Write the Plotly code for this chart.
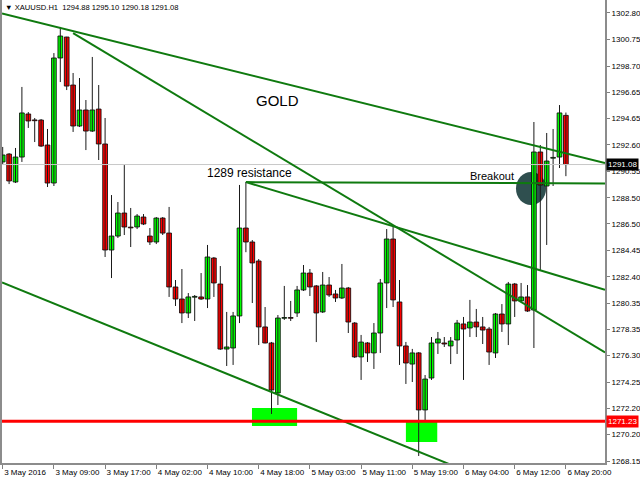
import plotly.graph_objects as go

# XAUUSD hourly bars
opens = [1291.28, 1291.89, 1289.73, 1291.66, 1294.99, 1294.52, 1294.52, 1292.59, 1289.65, 1299.32,
         1300.94, 1297.23, 1294.06, 1295.30, 1293.67, 1295.37, 1292.67, 1284.47, 1285.55, 1287.33,
         1286.22, 1286.25, 1287.02, 1285.55, 1285.09, 1286.94, 1285.78, 1281.61, 1280.68, 1279.60,
         1280.82, 1280.84, 1280.68, 1283.85, 1281.84, 1276.81, 1276.89, 1279.37, 1286.17, 1285.09,
         1283.62, 1278.52, 1277.28, 1273.41, 1279.19, 1279.21, 1279.60, 1281.38, 1282.69, 1281.69,
         1279.68, 1281.76, 1281.07, 1280.76, 1281.53, 1278.82, 1276.20, 1277.28, 1276.51, 1278.05,
         1281.92, 1285.32, 1280.45, 1277.05, 1275.65, 1276.51, 1272.10, 1274.57, 1277.28, 1277.28,
         1277.05, 1277.51, 1278.75, 1278.44, 1278.90, 1278.52, 1278.36, 1276.51, 1279.52, 1278.75,
         1281.84, 1280.53, 1280.84, 1279.83, 1292.05, 1289.42, 1291.57, 1291.66, 1294.88]
highs = [1292.44, 1291.97, 1292.36, 1297.08, 1295.14, 1294.68, 1294.60, 1293.83, 1299.70, 1301.72,
         1300.96, 1298.16, 1297.77, 1296.07, 1299.40, 1297.23, 1294.68, 1288.72, 1288.18, 1291.04,
         1287.72, 1287.25, 1287.25, 1286.17, 1287.02, 1287.02, 1287.80, 1282.15, 1283.00, 1281.14,
         1280.99, 1282.69, 1284.86, 1283.93, 1283.23, 1279.68, 1279.68, 1289.50, 1289.73, 1285.24,
         1283.77, 1280.06, 1277.36, 1279.44, 1281.69, 1280.53, 1281.69, 1283.31, 1283.00, 1281.76,
         1282.77, 1282.38, 1281.38, 1283.39, 1281.61, 1278.90, 1277.90, 1277.35, 1278.82, 1282.23,
         1286.09, 1286.40, 1282.15, 1277.36, 1276.82, 1276.58, 1274.80, 1277.74, 1278.13, 1277.74,
         1277.74, 1279.06, 1279.29, 1280.61, 1279.91, 1279.29, 1278.52, 1279.60, 1280.29, 1282.00,
         1281.92, 1281.92, 1281.76, 1294.37, 1292.59, 1293.52, 1293.83, 1295.68, 1295.10]
lows = [1291.12, 1289.57, 1289.65, 1291.28, 1293.91, 1292.82, 1292.44, 1289.34, 1289.42, 1297.46,
        1296.84, 1293.60, 1293.98, 1292.20, 1293.60, 1291.43, 1283.93, 1282.30, 1285.40, 1285.63,
        1284.70, 1286.09, 1286.40, 1284.86, 1284.93, 1285.63, 1280.84, 1280.14, 1278.82, 1279.21,
        1278.98, 1280.61, 1279.98, 1280.84, 1276.74, 1275.50, 1275.58, 1278.82, 1284.30, 1280.37,
        1277.12, 1277.25, 1271.79, 1272.48, 1279.06, 1278.98, 1279.29, 1281.30, 1280.91, 1277.35,
        1279.60, 1280.84, 1280.45, 1280.68, 1278.05, 1276.12, 1274.42, 1275.81, 1275.27, 1276.51,
        1279.98, 1280.06, 1275.58, 1274.11, 1274.26, 1268.54, 1271.32, 1274.42, 1276.43, 1276.97,
        1275.65, 1276.43, 1274.42, 1277.74, 1277.74, 1277.20, 1275.58, 1276.12, 1278.13, 1277.12,
        1279.29, 1280.45, 1279.68, 1276.89, 1282.92, 1284.86, 1289.42, 1290.81, 1290.18]
closes = [1291.82, 1289.81, 1291.66, 1295.07, 1294.45, 1294.47, 1292.51, 1289.65, 1299.32, 1301.02,
          1297.15, 1294.06, 1295.30, 1293.67, 1295.30, 1292.67, 1284.47, 1285.55, 1287.33, 1286.25,
          1286.18, 1287.10, 1286.48, 1285.09, 1286.94, 1285.78, 1281.61, 1280.68, 1279.60, 1280.84,
          1280.86, 1280.68, 1283.93, 1281.92, 1276.81, 1276.97, 1279.37, 1286.17, 1285.09, 1283.47,
          1278.52, 1277.28, 1273.64, 1279.21, 1279.23, 1279.19, 1281.38, 1282.69, 1281.61, 1279.60,
          1281.76, 1280.99, 1280.76, 1281.53, 1278.90, 1276.20, 1277.35, 1276.51, 1278.05, 1281.92,
          1285.32, 1280.61, 1277.05, 1275.73, 1276.51, 1272.10, 1274.49, 1277.28, 1277.59, 1277.20,
          1277.43, 1278.82, 1278.36, 1278.90, 1278.52, 1278.28, 1276.58, 1279.52, 1278.75, 1281.84,
          1280.53, 1280.84, 1279.75, 1292.05, 1289.50, 1291.35, 1291.61, 1295.07, 1291.08]

# time axis labels, one every 8 bars
time_labels = ["3 May 2016", "3 May 09:00", "3 May 17:00", "4 May 02:00", "4 May 10:00",
               "4 May 18:00", "5 May 03:00", "5 May 11:00", "5 May 19:00", "6 May 04:00",
               "6 May 12:00", "6 May 20:00"]
label_step = 8

price_ticks = [1302.80, 1300.75, 1298.70, 1296.65, 1294.65, 1292.60, 1290.55, 1288.50, 1286.50,
               1284.45, 1282.40, 1280.35, 1278.35, 1276.30, 1274.25, 1272.20, 1270.20, 1268.15]

support_level = 1271.23

# drawn objects, in (bar index, price)
upper_line = ([-0.11, 94.11], [1302.77, 1291.19])
steep_line = ([11.0, 94.11], [1301.25, 1276.55])
resistance_flat = ([38.0, 94.11], [1289.72, 1289.62])
resistance_slope = ([38.0, 94.11], [1289.72, 1281.40])
lower_channel = ([-0.11, 75.0], [1281.96, 1266.86])
low_zones = [([38.95, 46.0], [1270.86, 1272.25]), ([63.0, 67.9], [1269.62, 1271.17])]
breakout_zone = ([80.2, 84.9], [1287.95, 1290.50])

x_range = [-0.11, 94.11]
y_range = [1267.997, 1303.805]

n = len(opens)
idx = list(range(n))

fig = go.Figure()

# wicks
wx, wy = [], []
for i in idx:
    wx += [i, i, None]
    wy += [lows[i], highs[i], None]
fig.add_trace(go.Scatter(x=wx, y=wy, mode="lines", line=dict(color="#1a1a1a", width=1),
                         hoverinfo="skip"))

# bodies
base = [min(o, c) for o, c in zip(opens, closes)]
height = [max(abs(c - o), 0.06) for o, c in zip(opens, closes)]
colors = ["#00ff00" if c >= o else "#ff0000" for o, c in zip(opens, closes)]
fig.add_trace(go.Bar(x=idx, y=height, base=base, width=0.74,
                     marker=dict(color=colors, line=dict(color="black", width=0.8)),
                     hoverinfo="skip"))

# current price line
fig.add_trace(go.Scatter(x=x_range, y=[closes[-1]] * 2, mode="lines",
                         line=dict(color="#c8c8c8", width=1), hoverinfo="skip"))

# trend lines
for lx, ly in [upper_line, steep_line, resistance_flat, resistance_slope, lower_channel]:
    fig.add_trace(go.Scatter(x=lx, y=ly, mode="lines", line=dict(color="#0f7a0f", width=2),
                             hoverinfo="skip"))

# support level
fig.add_trace(go.Scatter(x=x_range, y=[support_level] * 2, mode="lines",
                         line=dict(color="#ff0000", width=3), hoverinfo="skip"))

shapes = []
for zx, zy in low_zones:
    shapes.append(dict(type="rect", xref="x", yref="y", x0=zx[0], x1=zx[1], y0=zy[0], y1=zy[1],
                       fillcolor="#00ff00", line=dict(width=0), layer="below"))
shapes.append(dict(type="circle", xref="x", yref="y",
                   x0=breakout_zone[0][0], x1=breakout_zone[0][1],
                   y0=breakout_zone[1][0], y1=breakout_zone[1][1],
                   fillcolor="#2f4f4f", line=dict(width=0), layer="below"))

small = dict(family="Liberation Sans, Arial, sans-serif", size=8, color="black")
annotations = [
    dict(xref="paper", yref="paper", x=0, y=1, xanchor="left", yanchor="top", xshift=1, yshift=-1,
         text="\u25bc XAUUSD.H1\u00a0\u00a0%.2f %.2f %.2f %.2f" % (opens[-1], highs[-1], lows[-1], closes[-1]),
         showarrow=False, font=dict(family="Liberation Sans, Arial, sans-serif", size=7.6, color="black")),
    dict(xref="x", yref="y", x=43.0, y=1296.07, text="GOLD", showarrow=False,
         font=dict(family="Liberation Sans, Arial, sans-serif", size=15, color="black")),
    dict(xref="x", yref="y", x=31.6, y=1290.46, xanchor="left", text="1289 resistance",
         showarrow=False, font=dict(family="Liberation Sans, Arial, sans-serif", size=12, color="black")),
    dict(xref="x", yref="y", x=72.7, y=1290.23, xanchor="left", text="Breakout",
         showarrow=False, font=dict(family="Liberation Sans, Arial, sans-serif", size=11, color="black")),
    dict(xref="paper", yref="y", x=1, y=closes[-1], xanchor="left", xshift=1,
         text="%.2f" % closes[-1], showarrow=False, bgcolor="black", borderpad=1,
         font=dict(family="Liberation Sans, Arial, sans-serif", size=8, color="white")),
    dict(xref="paper", yref="y", x=1, y=support_level, xanchor="left", xshift=1,
         text="%.2f" % support_level, showarrow=False, bgcolor="#ff0000", borderpad=1,
         font=dict(family="Liberation Sans, Arial, sans-serif", size=8, color="white")),
]

fig.update_layout(
    width=640, height=480,
    margin=dict(l=2, r=35, t=0, b=17),
    paper_bgcolor="white", plot_bgcolor="white",
    showlegend=False, barmode="overlay",
    font=small,
    shapes=shapes, annotations=annotations,
    xaxis=dict(range=x_range, tickmode="array",
               tickvals=[k * label_step for k in range(len(time_labels))], ticktext=time_labels,
               ticks="outside", ticklen=4, tickcolor="#808080", tickwidth=1,
               ticklabelposition="outside right", tickangle=0, automargin=False,
               showgrid=False, zeroline=False, showline=True, linecolor="#8c8c8c", linewidth=2,
               fixedrange=True),
    yaxis=dict(side="right", range=y_range, tickmode="array", tickvals=price_ticks,
               ticktext=["%.2f" % v for v in price_ticks], automargin=False,
               ticks="outside", ticklen=3, tickcolor="#808080", tickwidth=1,
               showgrid=False, zeroline=False, showline=True, mirror=True,
               linecolor="#8c8c8c", linewidth=2, fixedrange=True),
)

fig.write_html("out.html")
